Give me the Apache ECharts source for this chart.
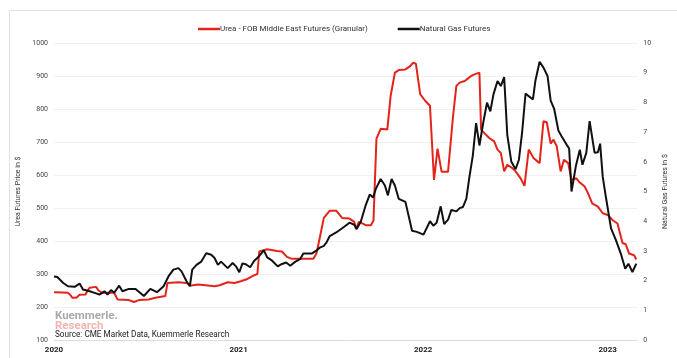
<!DOCTYPE html>
<html>
<head>
<meta charset="utf-8">
<script src="https://cdn.jsdelivr.net/npm/echarts@6/dist/echarts.min.js"></script>
<style>
html,body{margin:0;padding:0;background:#fff;}
#chart{width:677px;height:358px;}
</style>
</head>
<body>
<div id="chart"></div>
<script>
// ---- data (x = fractional year) ----
const ureaName = "Urea - FOB Middle East Futures (Granular)";
const gasName = "Natural Gas Futures";

const ureaT = [
2020.000,2020.043,2020.075,2020.086,2020.100,2020.121,2020.139,2020.171,2020.182,2020.193,
2020.228,2020.241,2020.262,2020.326,2020.344,2020.406,2020.433,2020.460,2020.513,2020.549,
2020.603,2020.615,2020.674,2020.717,2020.743,2020.781,2020.834,2020.870,2020.898,2020.941,
2020.977,2021.012,2021.048,2021.080,2021.102,2021.112,2021.155,2021.209,2021.235,2021.262,
2021.289,2021.351,2021.405,2021.422,2021.440,2021.462,2021.494,2021.529,2021.561,2021.601,
2021.627,2021.636,2021.652,2021.690,2021.717,2021.731,2021.747,2021.770,2021.806,2021.824,
2021.847,2021.868,2021.904,2021.930,2021.945,2021.961,2021.984,2022.011,2022.037,2022.059,
2022.078,2022.100,2022.135,2022.162,2022.180,2022.198,2022.225,2022.242,2022.260,2022.278,
2022.293,2022.305,2022.314,2022.332,2022.358,2022.385,2022.403,2022.421,2022.439,2022.456,
2022.483,2022.501,2022.528,2022.549,2022.572,2022.599,2022.631,2022.652,2022.670,2022.691,
2022.706,2022.724,2022.745,2022.763,2022.786,2022.804,2022.830,2022.849,2022.875,2022.893,
2022.916,2022.947,2022.973,2023.000,2023.027,2023.053,2023.080,2023.098,2023.116,2023.143,
2023.155];
const ureaPrice = [
245,244,243,238,228,228,237,238,250,258,
261,250,243,243,223,221,215,221,223,228,
233,273,275,273,265,268,265,263,266,275,
273,278,285,295,300,368,375,370,368,352,
346,346,346,362,410,470,492,492,470,468,
458,436,458,448,448,462,710,740,738,840,
910,918,920,930,940,937,845,825,810,585,
680,610,610,778,870,880,885,892,900,905,
908,910,738,727,712,702,677,667,611,631,
621,611,590,567,677,651,636,763,760,695,
707,687,611,646,636,585,590,577,565,545,
514,504,484,479,463,453,394,390,362,357,
344];

const gasT = [
2020.000,2020.018,2020.050,2020.076,2020.112,2020.139,2020.157,2020.193,2020.228,2020.246,
2020.273,2020.290,2020.309,2020.326,2020.353,2020.371,2020.406,2020.442,2020.487,2020.522,
2020.558,2020.594,2020.620,2020.647,2020.674,2020.691,2020.718,2020.736,2020.749,2020.772,
2020.798,2020.825,2020.852,2020.870,2020.888,2020.905,2020.941,2020.968,2020.986,2021.004,
2021.021,2021.039,2021.063,2021.084,2021.111,2021.137,2021.155,2021.182,2021.212,2021.235,
2021.258,2021.280,2021.306,2021.333,2021.351,2021.396,2021.419,2021.440,2021.462,2021.476,
2021.494,2021.529,2021.565,2021.601,2021.627,2021.640,2021.663,2021.690,2021.711,2021.729,
2021.743,2021.770,2021.793,2021.809,2021.829,2021.847,2021.868,2021.904,2021.940,2021.966,
2022.002,2022.037,2022.055,2022.073,2022.095,2022.114,2022.135,2022.153,2022.180,2022.198,
2022.216,2022.234,2022.251,2022.269,2022.287,2022.305,2022.328,2022.346,2022.364,2022.381,
2022.403,2022.421,2022.439,2022.456,2022.478,2022.501,2022.519,2022.536,2022.555,2022.572,
2022.595,2022.608,2022.631,2022.652,2022.674,2022.691,2022.710,2022.733,2022.750,2022.777,
2022.791,2022.804,2022.827,2022.849,2022.863,2022.884,2022.902,2022.929,2022.947,2022.959,
2022.973,2022.991,2023.018,2023.044,2023.071,2023.095,2023.112,2023.134,2023.155];
const gasPrice = [
2.14,2.12,1.92,1.81,1.79,1.90,1.70,1.64,1.57,1.53,
1.64,1.53,1.68,1.59,1.83,1.64,1.72,1.72,1.48,1.72,
1.61,1.81,2.14,2.37,2.42,2.31,1.98,1.81,2.37,2.53,
2.64,2.92,2.87,2.76,2.53,2.64,2.42,2.59,2.48,2.28,
2.58,2.55,2.45,2.66,2.82,3.02,2.78,2.67,2.48,2.56,
2.61,2.50,2.63,2.72,2.91,2.91,3.00,3.11,3.17,3.28,
3.50,3.62,3.78,3.95,3.88,3.74,4.00,4.56,4.90,4.80,
5.08,5.42,5.20,4.87,5.42,5.20,4.75,4.65,3.68,3.64,
3.55,4.00,3.85,3.95,4.50,3.90,4.05,4.38,4.33,4.44,
4.48,4.75,5.50,6.20,7.30,6.55,7.40,7.99,7.70,8.27,
8.72,8.55,8.85,6.90,6.00,5.75,6.07,6.97,8.30,8.21,
8.10,8.72,9.37,9.17,8.89,8.06,7.78,7.05,6.86,6.58,
6.45,5.00,5.84,6.41,5.90,6.30,7.37,6.30,6.32,6.61,
5.50,4.78,3.76,3.37,2.91,2.40,2.57,2.29,2.57];

const yearTicks = [2020, 2021, 2022, 2023];
const leftAxisTitle = "Urea Futures Price in $";
const rightAxisTitle = "Natural Gas Futures in $";
const sourceText = "Source: CME Market Data, Kuemmerle Research";

const FONT = "Roboto";
const chart = echarts.init(document.getElementById('chart'));
chart.setOption({
  animation: false,
  backgroundColor: '#fff',
  textStyle: { fontFamily: FONT },
  grid: { left: 54, right: 33, top: 43, bottom: 18 },
  legend: {
    top: 20, left: 193,
    itemWidth: 22, itemHeight: 2.5, itemGap: 30,
    icon: 'rect',
    textStyle: { fontSize: 8, color: '#333', fontFamily: FONT, padding: [0,0,0,-5] },
    data: [ureaName, gasName]
  },
  xAxis: {
    type: 'value', min: 2020, max: 2023.16, interval: 1,
    axisLine: { show: true, lineStyle: { color: '#dcdcdc', width: 1 } },
    axisTick: { show: false },
    splitLine: { show: false },
    axisLabel: {
      color: '#222', fontSize: 8, fontWeight: 'bold', margin: 6,
      showMaxLabel: false,
      formatter: v => yearTicks.indexOf(Math.round(v)) >= 0 && Math.abs(v - Math.round(v)) < 1e-6 ? String(Math.round(v)) : ''
    }
  },
  yAxis: [{
    type: 'value', min: 100, max: 1000, interval: 100,
    name: leftAxisTitle, nameLocation: 'middle', nameGap: 26,
    nameTextStyle: { fontSize: 7, color: '#333' },
    axisLine: { show: false }, axisTick: { show: false },
    splitLine: { lineStyle: { color: '#f0f0f0', width: 1 } },
    axisLabel: { color: '#444', fontSize: 7, margin: 6, formatter: v => String(v) }
  }, {
    type: 'value', min: 0, max: 10, interval: 1, position: 'right',
    name: rightAxisTitle, nameLocation: 'middle', nameGap: 18,
    nameTextStyle: { fontSize: 7, color: '#333' },
    axisLine: { show: false }, axisTick: { show: false },
    splitLine: { show: false },
    axisLabel: { color: '#444', fontSize: 7, margin: 6, formatter: v => String(v) }
  }],
  graphic: [
    { type: 'rect', shape: { x: 9.5, y: 10.5, width: 720, height: 400 }, style: { fill: 'none', stroke: '#e2e2e2', lineWidth: 1 }, silent: true },
    { type: 'text', left: 55, top: 310, style: { text: 'Kuemmerle.', font: 'bold 11.5px ' + FONT, fill: '#a9a9a9' }, z: 10 },
    { type: 'text', left: 55, top: 320.5, style: { text: 'Research', font: 'bold 11.5px ' + FONT, fill: '#f2b3b3' }, z: 10 },
    { type: 'text', left: 55, top: 331, style: { text: sourceText, font: '8.2px ' + FONT, fill: '#222' }, z: 11 }
  ],
  series: [{
    name: ureaName, type: 'line', yAxisIndex: 0,
    data: ureaT.map((t, i) => [t, ureaPrice[i]]),
    showSymbol: false, symbol: 'none',
    lineStyle: { color: '#e3241b', width: 2 }, itemStyle: { color: '#e3241b' }, z: 2
  }, {
    name: gasName, type: 'line', yAxisIndex: 1,
    data: gasT.map((t, i) => [t, gasPrice[i]]),
    showSymbol: false, symbol: 'none',
    lineStyle: { color: '#111', width: 2 }, itemStyle: { color: '#111' }, z: 3
  }]
});
</script>
</body>
</html>
